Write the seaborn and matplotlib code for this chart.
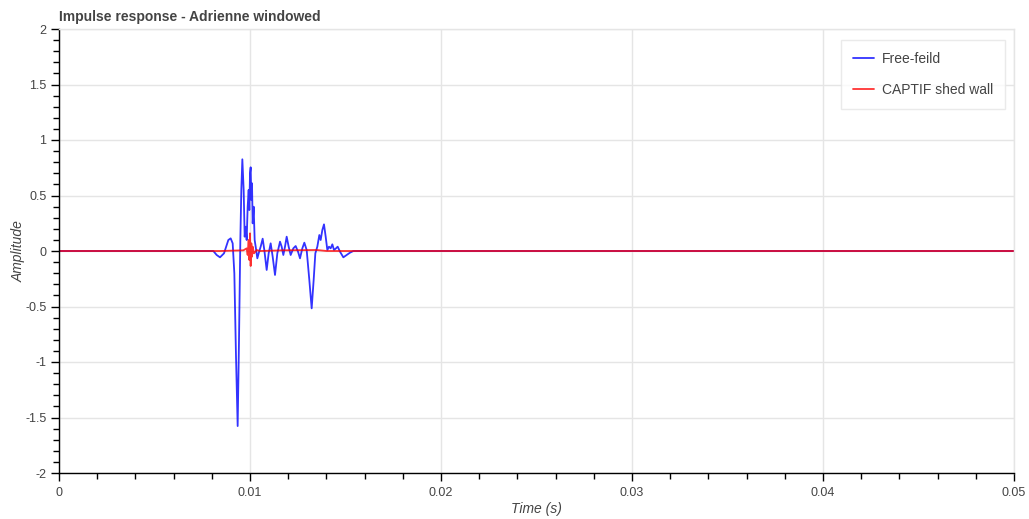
import matplotlib
matplotlib.use("Agg")
import matplotlib.pyplot as plt
import seaborn as sns
import pandas as pd
from matplotlib.ticker import MultipleLocator, FuncFormatter

# ---- data (time in seconds, amplitude) ----
free_t_ms = [0.0, 7.382, 8.080, 8.255, 8.429, 8.639, 8.866, 8.988, 9.093, 9.180, 9.267,
             9.354, 9.424, 9.494, 9.546, 9.599, 9.668, 9.721, 9.773, 9.826, 9.878,
             9.930, 9.965, 10.000, 10.035, 10.070, 10.105, 10.140, 10.192, 10.244, 10.297,
             10.384, 10.454, 10.559, 10.663, 10.750, 10.873, 10.977, 11.082, 11.187, 11.309,
             11.431, 11.571, 11.658, 11.745, 11.832, 11.920, 12.024, 12.129, 12.269, 12.391,
             12.513, 12.618, 12.740, 12.845, 12.967, 13.106, 13.229, 13.333, 13.421, 13.525,
             13.630, 13.700, 13.787, 13.874, 13.962, 14.049, 14.136, 14.223, 14.311, 14.398,
             14.503, 14.590, 14.712, 14.887, 15.061, 15.236, 15.410, 50.0]
free_amp = [0.0, 0.0, 0.0, -0.036, -0.057, -0.021, 0.099, 0.114, 0.069, -0.201, -0.952,
            -1.577, -0.802, 0.099, 0.550, 0.826, 0.550, 0.129, 0.219, 0.099, 0.399,
            0.550, 0.369, 0.700, 0.754, 0.459, 0.610, 0.249, 0.399, 0.099, 0.039,
            -0.066, -0.021, 0.039, 0.111, 0.009, -0.171, -0.021, 0.069, -0.051, -0.216,
            -0.021, 0.084, 0.039, -0.036, 0.039, 0.129, 0.039, -0.036, 0.024, 0.045,
            -0.006, -0.066, 0.024, 0.075, 0.009, -0.261, -0.517, -0.261, -0.021, 0.039,
            0.144, 0.099, 0.189, 0.240, 0.129, 0.009, 0.039, 0.024, 0.060, 0.009,
            0.024, 0.039, -0.006, -0.057, -0.036, -0.015, 0.0, 0.0]

wall_t_ms = [0.0, 7.382, 8.429, 9.651, 9.826, 9.878, 9.930, 9.965, 10.000, 10.035,
             10.070, 10.105, 10.140, 10.209, 10.349, 10.524, 11.745, 13.490, 14.014, 50.0]
wall_amp = [0.0, 0.0, 0.0, 0.006, 0.024, -0.036, 0.099, -0.081, 0.159, -0.135,
            0.069, -0.051, 0.039, -0.021, 0.009, 0.0, 0.006, 0.009, 0.0, 0.0]

series_names = ["Free-feild", "CAPTIF shed wall"]
title = "Impulse response - Adrienne windowed"
x_label = "Time (s)"
y_label = "Amplitude"

free_df = pd.DataFrame({"t": [v / 1000 for v in free_t_ms], "amp": free_amp})
wall_df = pd.DataFrame({"t": [v / 1000 for v in wall_t_ms], "amp": wall_amp})

sns.set_style("white")
plt.rcParams["font.family"] = ["Liberation Sans", "DejaVu Sans"]

fig = plt.figure(figsize=(10.29, 5.19), dpi=100)
ax = fig.add_axes([59 / 1029, 1 - 473 / 519, (1014 - 59) / 1029, (473 - 29) / 519])

sns.lineplot(data=free_df, x="t", y="amp", ax=ax, color="blue", alpha=0.8,
             linewidth=1.3, label=series_names[0], sort=False, estimator=None)
sns.lineplot(data=wall_df, x="t", y="amp", ax=ax, color="red", alpha=0.8,
             linewidth=1.3, label=series_names[1], sort=False, estimator=None)

ax.set_xlim(0, 0.05)
ax.set_ylim(-2, 2)
ax.xaxis.set_major_locator(MultipleLocator(0.01))
ax.xaxis.set_minor_locator(MultipleLocator(0.002))
ax.yaxis.set_major_locator(MultipleLocator(0.5))
ax.yaxis.set_minor_locator(MultipleLocator(0.1))

def fmt(v, pos):
    s = f"{v:.2f}".rstrip("0").rstrip(".")
    return "0" if s in ("-0", "0") else s

ax.xaxis.set_major_formatter(FuncFormatter(fmt))
ax.yaxis.set_major_formatter(FuncFormatter(fmt))

ax.grid(True, which="major", color="#e5e5e5", linewidth=1)
ax.set_axisbelow(True)

for s in ["left", "bottom"]:
    ax.spines[s].set_color("black")
    ax.spines[s].set_linewidth(1)
for s in ["top", "right"]:
    ax.spines[s].set_color("#e5e5e5")
    ax.spines[s].set_linewidth(1)

ax.tick_params(which="major", direction="out", length=6, width=1, color="black",
               labelsize=9, labelcolor="#444444", pad=3)
ax.tick_params(which="minor", direction="out", length=4, width=1, color="black")
ax.tick_params(axis="x", which="major", pad=4)
ax.tick_params(top=False, right=False, which="both")
ax.tick_params(axis="x", bottom=True, which="both")
ax.tick_params(axis="y", left=True, which="both")

ax.set_xlabel(x_label, fontsize=10, style="italic", color="#444444", labelpad=2)
ax.set_ylabel(y_label, fontsize=10, style="italic", color="#444444", labelpad=0)

fig.text(59 / 1029, 1 - 17 / 519, title, fontsize=10, fontweight="bold",
         color="#444444", ha="left", va="center")

leg = ax.legend(loc="upper right", bbox_to_anchor=(1 - 9 / 955, 1 - 11 / 444),
                borderaxespad=0, frameon=True, fancybox=False, fontsize=10,
                handlelength=1.5, labelspacing=1.25, borderpad=0.85, handletextpad=0.6)
leg.get_frame().set_edgecolor("#e5e5e5")
leg.get_frame().set_linewidth(1)
for t in leg.get_texts():
    t.set_color("#444444")

fig.savefig("out.png", dpi=100)
